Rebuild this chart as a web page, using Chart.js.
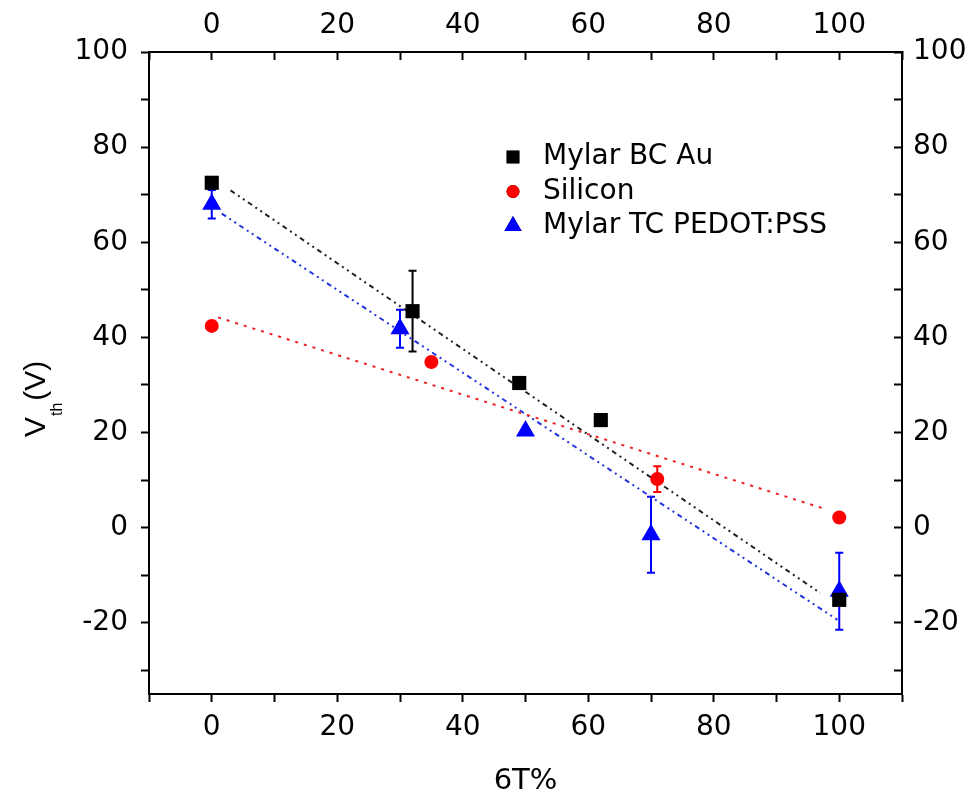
<!DOCTYPE html>
<html>
<head>
<meta charset="utf-8">
<script src="https://cdn.jsdelivr.net/npm/chart.js@4.4.1/dist/chart.umd.min.js"></script>
<style>
  html, body { margin: 0; padding: 0; background: #fff; }
  #wrap { width: 973px; height: 793px; }
</style>
</head>
<body>
<div id="wrap"><canvas id="chart" width="973" height="793"></canvas></div>
<script>
// measured points (6T %, Vth in V) and error half-widths
const xBC = [0, 32, 49, 62, 100];
const yBC = [72.5, 45.5, 30.4, 22.6, -15.2];
const errBC = [0, 8.5, 0, 0, 0];

const xSi = [0, 35, 71, 100];
const ySi = [42.4, 34.8, 10.2, 2.1];
const errSi = [0, 0, 2.7, 0];

const xTC = [0, 30, 50, 70, 100];
const yTC = [68, 41.8, 20.3, -1.5, -13.4];
const errTC = [3, 4, 0, 8, 8.1];

// linear fit lines, start/end
const fitBCx = [3, 97];
const fitBCy = [70.9, -13.8];
const fitSix = [1, 98];
const fitSiy = [44.2, 3.8];
const fitTCx = [1.6, 99.7];
const fitTCy = [66, -19.4];

const seriesNames = ["Mylar BC Au", "Silicon", "Mylar TC PEDOT:PSS"];
const xTitle = "6T%";

const FONT = "'DejaVu Sans', sans-serif";
const TITLE_FONT = "'Liberation Sans', Arial, sans-serif";

const pts = (xs, ys) => xs.map((x, i) => ({ x: x, y: ys[i] }));

// draws vertical error bars with caps
const errorBars = {
    id: "errorBars",
    beforeDatasetsDraw(chart) {
        const ctx = chart.ctx;
        const xs = chart.scales.x, ys = chart.scales.y;
        chart.data.datasets.forEach((ds) => {
            if (!ds.errors) return;
            ctx.save();
            ctx.strokeStyle = ds.backgroundColor;
            ctx.lineWidth = 2;
            ds.data.forEach((p, i) => {
                const e = ds.errors[i];
                if (!e) return;
                const px = xs.getPixelForValue(p.x);
                const top = ys.getPixelForValue(p.y + e);
                const bot = ys.getPixelForValue(p.y - e);
                ctx.beginPath();
                ctx.moveTo(px, top); ctx.lineTo(px, bot);
                ctx.moveTo(px - 4, top); ctx.lineTo(px + 4, top);
                ctx.moveTo(px - 4, bot); ctx.lineTo(px + 4, bot);
                ctx.stroke();
            });
            ctx.restore();
        });
    },
};

// legend sitting inside the plot area
const insideLegend = {
    id: "insideLegend",
    afterDraw(chart) {
        const { ctx, chartArea } = chart;
        const x0 = chartArea.left + 364;
        let y = chartArea.top + 105;
        chart.data.datasets.forEach((ds) => {
            if (!ds.inLegend) return;
            Chart.helpers.drawPoint(ctx, {
                pointStyle: ds.pointStyle,
                radius: ds.legendRadius,
                rotation: 0,
                borderWidth: 0,
            }, x0, y);
            ctx.save();
            ctx.fillStyle = ds.backgroundColor;
            ctx.fill();
            ctx.restore();
            ctx.save();
            ctx.fillStyle = "#000";
            ctx.font = "28px " + FONT;
            ctx.textBaseline = "middle";
            ctx.fillText(ds.label, x0 + 30, y);
            ctx.restore();
            y += 34.5;
        });
    },
};

// y-axis title with subscript
const yTitle = {
    id: "yTitle",
    afterDraw(chart) {
        const ctx = chart.ctx;
        ctx.save();
        ctx.translate(45, 437);
        ctx.rotate(-Math.PI / 2);
        ctx.fillStyle = "#000";
        ctx.textBaseline = "alphabetic";
        ctx.font = "30px " + TITLE_FONT;
        ctx.fillText("V", 0, 0);
        let w = ctx.measureText("V").width + 1;
        ctx.font = "16px " + TITLE_FONT;
        ctx.fillText("th", w, 17);
        w += ctx.measureText("th").width + 2;
        ctx.font = "30px " + TITLE_FONT;
        ctx.fillText("(V)", w, 0);
        ctx.restore();
    },
};

const tickFont = { family: FONT, size: 28 };
const label20 = (v) => (Math.round(v) % 20 === 0 ? String(v) : "");

function axis(position, size, inward, extra) {
    const horiz = position === "top" || position === "bottom";
    return Object.assign({
        type: "linear",
        position: position,
        min: horiz ? -10 : -35,
        max: horiz ? 110 : 100,
        ticks: {
            stepSize: 10,
            autoSkip: false,
            maxRotation: 0,
            includeBounds: false,
            color: "#000",
            font: tickFont,
            callback: label20,
        },
        grid: {
            drawOnChartArea: false,
            tickLength: inward ? -8 : 8,
            tickWidth: 2,
            tickColor: "#000",
        },
        border: { color: "#000", width: 2 },
        afterFit: (s) => {
            if (horiz) s.height = size; else s.width = size;
        },
    }, extra || {});
}

const xBottom = axis("bottom", 99, false, {
    title: {
        display: true, text: xTitle, color: "#000",
        font: { family: FONT, size: 29, lineHeight: 0.8 },
        padding: { top: 4, bottom: 0 },
    },
});
xBottom.ticks.padding = 9;
const xTop = axis("top", 52, true);
xTop.ticks.padding = 17;
const yLeft = axis("left", 149, false);
yLeft.ticks.padding = 13;
const yRight = axis("right", 71, true);
yRight.ticks.padding = 19;

new Chart(document.getElementById("chart"), {
    type: "scatter",
    data: {
        datasets: [
            {
                label: seriesNames[0],
                data: pts(xBC, yBC),
                errors: errBC,
                inLegend: true,
                pointStyle: "rect",
                pointRadius: 10,
                legendRadius: 9,
                backgroundColor: "#000000",
                borderWidth: 0,
            },
            {
                label: seriesNames[1],
                data: pts(xSi, ySi),
                errors: errSi,
                inLegend: true,
                pointStyle: "circle",
                pointRadius: 7,
                legendRadius: 6.5,
                backgroundColor: "#ff0000",
                borderWidth: 0,
            },
            {
                label: seriesNames[2],
                data: pts(xTC, yTC),
                errors: errTC,
                inLegend: true,
                pointStyle: "triangle",
                pointRadius: 11,
                legendRadius: 10,
                backgroundColor: "#0000ff",
                borderWidth: 0,
            },
            {
                label: "fit BC",
                data: pts(fitBCx, fitBCy),
                showLine: true,
                pointRadius: 0,
                borderColor: "#222222",
                borderWidth: 2,
                borderDash: [5, 4, 2, 4, 2, 4],
            },
            {
                label: "fit Si",
                data: pts(fitSix, fitSiy),
                showLine: true,
                pointRadius: 0,
                borderColor: "#ee2222",
                borderWidth: 2,
                borderDash: [3, 6],
            },
            {
                label: "fit TC",
                data: pts(fitTCx, fitTCy),
                showLine: true,
                pointRadius: 0,
                borderColor: "#2233dd",
                borderWidth: 2,
                borderDash: [5, 4, 2, 4, 2, 4],
            },
        ],
    },
    options: {
        responsive: false,
        animation: false,
        layout: { padding: 0 },
        plugins: {
            legend: { display: false },
            tooltip: { enabled: false },
        },
        scales: {
            x: xBottom,
            x2: xTop,
            y: yLeft,
            y2: yRight,
        },
    },
    plugins: [errorBars, insideLegend, yTitle],
});
</script>
</body>
</html>
